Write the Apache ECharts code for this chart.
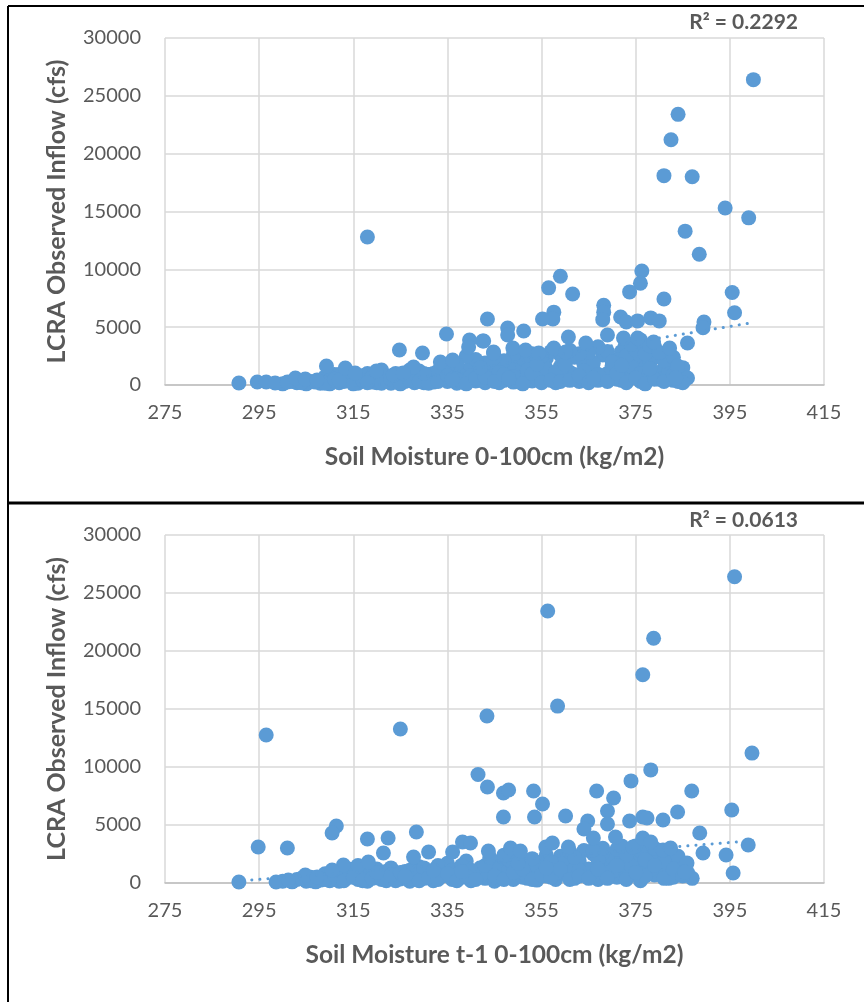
<!DOCTYPE html>
<html>
<head>
<meta charset="utf-8">
<script src="https://cdn.jsdelivr.net/npm/echarts@6/dist/echarts.min.js"></script>
<style>html,body{margin:0;padding:0;background:#fff;}#c{width:864px;height:1002px;}</style>
</head>
<body>
<div id="c"></div>
<script>
// ---- Data ----
const xTitleTop = 'Soil Moisture 0-100cm (kg/m2)';
const xTitleBottom = 'Soil Moisture t-1 0-100cm (kg/m2)';
const yTitle = 'LCRA Observed Inflow (cfs)';
const r2Top = 'R² = 0.2292';
const r2Bottom = 'R² = 0.0613';

// top panel: soil moisture (kg/m2) vs inflow (cfs)
const topOutliers = [
  [400,26400],[384,23400],[382.5,21200],[381,18100],[387,18000],[394,15300],[399,14450],
  [385.5,13300],[388.5,11300],[318,12800],[395.5,8000],[396,6250],[389.5,5450],[389.3,4950],
  [386,3630],[376.3,9850],[376,8800],[373.7,8050],[381,7440],[359,9400],[356.5,8400],
  [361.6,7870],[368.2,6900],[368.2,6300],[368,5650],[357.6,6300],[357.4,5700],[355.2,5700],
  [371.8,5880],[373,5450],[375.4,5540],[378.2,5800],[380,5540],[351.2,4670],[347.8,4930],
  [347.8,4320],[343.5,5710],[342.7,3800],[360.7,4150],[369,4320],[364.4,3630],[372.4,4060],
  [375.4,4060],[378.8,3720],[382.2,3200],[344.8,2850],[348.9,3200],[351.6,3030],[354.4,2770],
  [357.6,3200],[360.1,2850],[383.9,1640],[383.5,600],[334.8,4410],[339.7,3890],[342.5,3800],
  [339.5,3290],[324.8,3030],[329.7,2770],[344.8,2770],[333.5,1990],[336.1,2160],[327.8,1560],
  [309.3,1640],[313.3,1470],[315.4,1040],[319.9,1210],[323.5,865],[325.6,1040],[290.7,170],
  [294.6,260],[296.5,260],[298.4,170],[301,260],[302.7,600],[304.8,520],[307.3,430]
];
const topCluster = [
  [306,300],[308,150],[309,700],[310,400],[311,900],[312,200],[313,600],[314,1100],[315,350],
  [316,150],[317,800],[318,500],[319,250],[320,700],[321,1300],[322,400],[323,150],[324,600],
  [325,950],[326,300],[327,750],[328,200],[329,1200],[330,500],[331,900],[332,250],[333,650],
  [334,1400],[335,300],[336,800],[337,150],[338,1100],[339,500],[340,1600],[341,350],[342,900],
  [343,200],[344,1300],[345,600],[346,1800],[347,400],[348,1000],[349,250],[350,1500],[351,700],
  [352,2000],[353,350],[354,1200],[355,500],[356,2300],[357,900],[358,200],[359,1600],[360,600],
  [361,1100],[362,2400],[363,300],[364,1800],[365,800],[366,1300],[367,400],[368,2600],[369,1000],
  [370,1700],[371,500],[372,2900],[373,1200],[374,700],[375,2100],[376,300],[377,1500],[378,900],
  [379,2500],[380,1100],[381,600],[382,1800],[383,400],[384,1200],[385,800],
  [303,200],[305,100],[310,100],[312,900],[315,600],[318,1000],[320,200],[322,800],[325,300],
  [327,1300],[330,200],[332,1000],[334,500],[336,1200],[338,300],[340,800],[342,400],[344,700],
  [346,200],[348,1500],[350,300],[352,900],[354,600],[356,1400],[358,700],[360,1200],[362,900],
  [364,500],[366,1900],[368,700],[370,1200],[372,400],[374,1600],[376,1000],[378,1900],[380,500],
  [382,1300],[384,300],[371,2200],[373,2500],[375,3000],[377,2700],[379,3300],[381,2100],[374,3500],
  [376,3900],[378,3400],[369,2900],[367,3300],[365,2800],[363,2700],[361,3000],[359,2600],[357,2900],
  [355,2500],[353,2700],[351,2300],[349,2600],[347,2100],[345,2400],[343,1900],[341,2200],[339,2500],
  [337,1800],[335,1500],[333,1200],[346,1100],[352,1300],[358,1100],[364,1200],[370,2000],[380,2800],
  [383,2400],[385,1500],[386,600],
  [300,100],[302,300],[304,200],[307,250],[309,150],[311,500],[313,300],[315,100],[317,400],[319,700],
  [321,150],[323,500],[325,100],[327,400],[329,300],[331,150],[333,300],[335,800],[337,500],[339,100],
  [341,600],[343,700],[345,300],[347,900],[349,700],[351,100],[353,1000],[355,200],[357,400],[359,300],
  [361,400],[363,800],[365,200],[367,900],[369,300],[371,1000],[373,200],[375,600],[377,100],[379,500],
  [381,300],[383,900],[385,200],[378,1400],[372,1700],[366,600],[360,1800],[354,1800],[348,600],
  [342,1500],[336,500],[330,1000],[324,1000],[318,200],[312,400]
];
const topTrend = [[290,-1950],[400,5400]];

// bottom panel: previous-step soil moisture vs inflow
const bottomOutliers = [
  [396,26400],[356.3,23450],[378.8,21100],[376.5,17950],[358.4,15250],[343.4,14400],[399.7,11200],
  [378.2,9750],[374,8800],[366.7,7930],[370.3,7330],[386.9,7930],[353.3,7930],[355.2,6810],
  [346.9,7760],[348,8020],[343.5,8280],[341.5,9350],[395.4,6290],[383.9,6120],[369,6210],[369,5090],
  [360.1,5780],[346.9,5690],[353.5,5690],[364.8,5340],[364,4650],[373.7,5340],[376.5,5690],
  [377.4,5600],[380.8,5430],[370.7,3970],[388.6,4310],[398.9,3280],[389.3,2590],[394.2,2410],
  [395.7,860],[343.7,2760],[348.4,3020],[350.5,2760],[355.9,3100],[357.3,3450],[360.7,3100],
  [365.9,2840],[366,3880],[374.4,3100],[376.5,3880],[378.2,3530],[380.8,2840],[382.4,3020],
  [385.9,1720],[385.4,950],[296.5,12760],[325,13270],[311.4,4910],[310.5,4310],[294.8,3100],
  [301,3020],[318,3790],[322.4,3880],[328.4,4400],[321.4,2590],[318.2,1810],[331,2670],[336.1,2670],
  [338.2,3530],[339.9,3450],[327.8,2240],[312.9,1550],[290.7,90],[298.6,90],[301.2,260],[304.8,690],
  [307.3,520],[310.5,1120]
];
const bottomCluster = [
  [303,300],[305,150],[306,500],[308,250],[309,800],[311,400],[312,150],[313,900],[314,500],
  [315,1200],[316,300],[317,700],[318,150],[319,1000],[320,450],[321,800],[322,200],[323,1300],
  [324,600],[325,350],[326,1000],[327,150],[328,700],[329,1400],[330,400],[331,900],[332,200],
  [333,1200],[334,600],[335,1700],[336,300],[337,1000],[338,500],[339,1900],[340,200],[341,800],
  [342,1300],[343,400],[344,1000],[345,150],[346,1600],[347,700],[348,1100],[349,300],[350,2100],
  [351,500],[352,1300],[353,800],[354,250],[355,1800],[356,600],[357,1100],[358,300],[359,2300],
  [360,900],[361,1500],[362,400],[363,1900],[364,700],[365,1200],[366,2500],[367,300],[368,1600],
  [369,900],[370,2200],[371,500],[372,1300],[373,2700],[374,800],[375,1900],[376,200],[377,1400],
  [378,2400],[379,700],[380,1700],[381,1100],[382,2200],[383,500],[384,1500],[386,900],[387,400],
  [307,100],[310,200],[312,700],[316,900],[320,1200],[324,200],[328,1000],[332,700],[336,1100],
  [338,1500],[340,1100],[342,600],[344,1800],[346,400],[348,2000],[350,900],[352,400],[354,1500],
  [356,2400],[358,800],[360,2000],[362,1200],[364,2800],[366,600],[368,2600],[370,1000],[372,2100],
  [374,1500],[376,2800],[378,1100],[380,2600],[382,400],[384,2300],[385,1200],[371,2900],[375,3200],
  [379,3000],[373,2400],[367,2000],[357,1800],[349,1500],[345,1200],[333,1500],[327,1100],[318,600],
  [314,1200],[322,1000],[330,1300],[347,2400],[353,2100],[361,2700],[363,1100],[377,600],[381,1900],
  [300,150],[302,100],[304,400],[306,200],[309,300],[311,700],[313,200],[315,500],[317,200],[319,400],
  [321,300],[323,700],[325,900],[327,400],[329,200],[331,500],[333,300],[335,800],[337,200],[339,600],
  [341,300],[343,1500],[345,600],[347,300],[349,900],[351,1200],[353,300],[355,700],[357,500],[359,1200],
  [361,300],[363,600],[365,400],[367,1200],[369,400],[371,1500],[373,300],[375,900],[377,2000],[379,1500],
  [381,400],[383,1200],[385,600],[372,3200],[368,3000],[362,2200],[356,1300],[350,1700],[344,2200],
  [338,1000],[332,1100],[326,600],[320,900],[316,1500]
];
const bottomTrend = [[290,150],[400,3650]];

// axis settings
const xMin = 275, xMax = 415, xStep = 20;
const yMin = 0, yMax = 30000, yStep = 5000;

// ---- Chart ----
const blue = '#5B9BD5';
const grey = '#595959';
const font = 'Lato, "Open Sans", sans-serif';
const chart = echarts.init(document.getElementById('c'), null, {renderer: 'canvas'});

function xAxis(gi, name) {
  return {
    gridIndex: gi, type: 'value', min: xMin, max: xMax, interval: xStep,
    name: name, nameLocation: 'middle', nameGap: 60,
    nameTextStyle: {color: grey, fontSize: 24.5, fontWeight: 'bold', fontFamily: font},
    axisLine: {show: true, lineStyle: {color: '#BFBFBF', width: 1.5}},
    axisTick: {show: false},
    axisLabel: {color: grey, fontSize: 20, fontFamily: font, margin: 18, formatter: v => String(v)},
    splitLine: {show: true, lineStyle: {color: '#D9D9D9', width: 1.5}}
  };
}
function yAxis(gi) {
  return {
    gridIndex: gi, type: 'value', min: yMin, max: yMax, interval: yStep,
    name: yTitle, nameLocation: 'middle', nameGap: 96, nameRotate: 90,
    nameTextStyle: {color: grey, fontSize: 25, fontWeight: 'bold', fontFamily: font},
    axisLine: {show: false}, axisTick: {show: false},
    axisLabel: {color: grey, fontSize: 20, fontFamily: font, margin: 24, formatter: v => String(v)},
    splitLine: {show: true, lineStyle: {color: '#D9D9D9', width: 1.5}}
  };
}
function scatter(i, data) {
  return {type: 'scatter', xAxisIndex: i, yAxisIndex: i, data: data, symbolSize: 15,
    itemStyle: {color: blue, opacity: 1}, silent: true, z: 2};
}
function trend(i, data) {
  return {type: 'line', xAxisIndex: i, yAxisIndex: i, data: data, showSymbol: false, symbol: 'none',
    clip: true, lineStyle: {color: blue, width: 3, type: [0.1, 8], cap: 'round'}, silent: true, z: 3};
}

chart.setOption({
  animation: false,
  backgroundColor: '#fff',
  grid: [
    {left: 165, right: 40, top: 38, height: 347},
    {left: 165, right: 40, top: 535, height: 348}
  ],
  xAxis: [xAxis(0, xTitleTop), xAxis(1, xTitleBottom)],
  yAxis: [yAxis(0), yAxis(1)],
  series: [
    scatter(0, topCluster.concat(topOutliers)),
    trend(0, topTrend),
    scatter(1, bottomCluster.concat(bottomOutliers)),
    trend(1, bottomTrend)
  ],
  graphic: [
    {type: 'text', right: 66, top: 12, style: {text: r2Top, fill: grey, font: 'bold 21px ' + font}},
    {type: 'text', right: 66, top: 510, style: {text: r2Bottom, fill: grey, font: 'bold 21px ' + font}},
    {type: 'line', shape: {x1: 8, y1: 6, x2: 864, y2: 6}, style: {stroke: '#000', lineWidth: 2}},
    {type: 'line', shape: {x1: 8, y1: 6, x2: 8, y2: 1002}, style: {stroke: '#000', lineWidth: 2}},
    {type: 'line', shape: {x1: 8, y1: 503, x2: 864, y2: 503}, style: {stroke: '#000', lineWidth: 3}}
  ]
});
</script>
</body>
</html>
